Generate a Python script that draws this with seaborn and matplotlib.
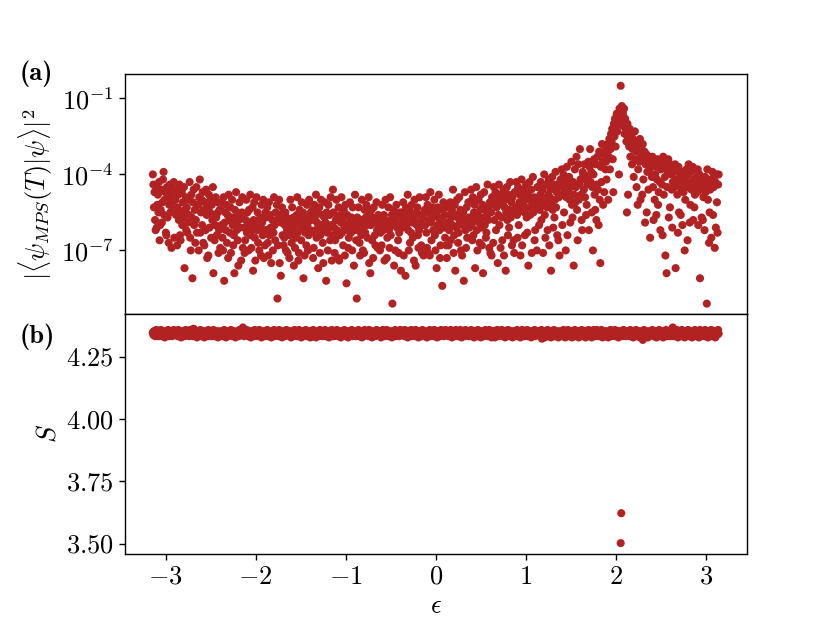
import numpy as np
import matplotlib
matplotlib.use("Agg")
import matplotlib.pyplot as plt
import seaborn as sns

# detuning grid: eps runs over [-pi, pi], one point per stored value
eps_min, eps_max = -np.pi, np.pi

# log10 of |<psi_MPS(T)|psi>|^2, in tenths (-52 -> 10^-5.2), 40 points per row
overlap_log10x10 = [
    -40, -44, -53, -47, -58, -62, -45, -61, -52, -48, -55, -43, -66, -60, -54, -46, -59, -51, -42, -39, -56, -50, -47, -63, -64, -45, -57, -49, -67, -52, -44, -55, -48, -69, -51, -46, -54, -43, -65, -50,
    -50, -56, -46, -68, -53, -48, -58, -44, -64, -66, -55, -47, -60, -51, -57, -45, -77, -54, -49, -62, -53, -63, -59, -50, -56, -43, -65, -70, -48, -57, -81, -51, -46, -60, -54, -67, -58, -45, -63, -52,
    -52, -70, -49, -42, -63, -55, -50, -60, -47, -67, -54, -68, -51, -62, -46, -56, -73, -53, -72, -48, -61, -55, -50, -65, -52, -58, -45, -79, -56, -66, -60, -49, -57, -64, -51, -55, -71, -62, -54, -69,
    -54, -60, -51, -65, -70, -49, -82, -59, -55, -62, -52, -67, -56, -73, -48, -58, -63, -53, -71, -57, -50, -60, -68, -64, -79, -54, -59, -47, -62, -56, -66, -76, -58, -51, -61, -57, -74, -55, -49, -69,
    -56, -61, -71, -66, -58, -50, -63, -55, -60, -70, -54, -59, -48, -64, -69, -62, -53, -78, -58, -51, -65, -74, -60, -49, -62, -55, -67, -58, -70, -61, -57, -72, -52, -59, -64, -50, -73, -62, -68, -55,
    -57, -62, -53, -67, -72, -51, -64, -56, -61, -75, -62, -58, -70, -63, -49, -60, -66, -55, -59, -52, -89, -68, -57, -50, -75, -56, -80, -59, -53, -64, -58, -68, -65, -60, -55, -70, -57, -62, -71, -59,
    -60, -73, -64, -50, -58, -67, -53, -61, -57, -76, -62, -69, -59, -65, -56, -49, -63, -74, -71, -54, -60, -57, -66, -51, -61, -55, -81, -59, -72, -63, -57, -68, -52, -60, -70, -64, -50, -58, -62, -55,
    -58, -63, -54, -73, -69, -52, -57, -62, -48, -65, -59, -55, -77, -61, -53, -71, -64, -50, -60, -56, -67, -75, -62, -57, -51, -59, -82, -55, -63, -70, -52, -61, -56, -66, -49, -60, -74, -64, -46, -55,
    -61, -71, -66, -58, -50, -62, -57, -73, -53, -74, -64, -56, -59, -49, -63, -58, -68, -54, -61, -72, -52, -60, -83, -56, -62, -69, -65, -59, -51, -58, -63, -57, -70, -53, -60, -76, -62, -48, -58, -66,
    -89, -57, -62, -53, -60, -67, -72, -58, -64, -50, -61, -70, -59, -71, -54, -63, -57, -52, -60, -65, -58, -49, -75, -56, -79, -60, -54, -66, -57, -73, -53, -59, -64, -68, -58, -51, -62, -69, -56, -60,
    -60, -70, -63, -57, -68, -52, -59, -62, -56, -74, -58, -50, -61, -73, -65, -59, -53, -62, -69, -49, -64, -58, -56, -91, -60, -54, -76, -57, -70, -59, -52, -61, -56, -66, -71, -63, -55, -60, -78, -57,
    -55, -61, -51, -72, -57, -59, -80, -53, -60, -56, -48, -62, -70, -54, -67, -57, -63, -52, -59, -65, -56, -74, -50, -58, -76, -55, -60, -53, -64, -69, -62, -49, -59, -56, -68, -71, -60, -57, -72, -55,
    -54, -60, -49, -63, -69, -52, -71, -58, -55, -72, -47, -59, -66, -53, -57, -62, -56, -50, -64, -70, -55, -77, -60, -53, -57, -48, -62, -73, -68, -59, -54, -84, -58, -51, -61, -56, -65, -53, -68, -73,
    -53, -59, -68, -62, -56, -51, -66, -57, -54, -60, -46, -71, -64, -52, -78, -56, -61, -50, -57, -67, -63, -49, -59, -54, -70, -57, -72, -60, -55, -82, -58, -47, -62, -69, -53, -65, -59, -51, -57, -61,
    -51, -57, -46, -60, -66, -49, -64, -55, -52, -77, -58, -45, -62, -70, -56, -50, -59, -67, -54, -48, -61, -68, -52, -79, -57, -47, -60, -54, -65, -63, -56, -44, -58, -53, -69, -51, -71, -55, -72, -49,
    -49, -67, -45, -58, -52, -47, -62, -53, -50, -75, -56, -44, -60, -51, -69, -48, -57, -66, -52, -46, -72, -53, -50, -78, -55, -45, -58, -64, -48, -61, -54, -43, -57, -51, -68, -49, -55, -66, -71, -47,
    -47, -53, -43, -56, -65, -45, -60, -51, -48, -72, -54, -42, -68, -49, -52, -46, -55, -64, -50, -44, -57, -63, -48, -76, -53, -43, -56, -50, -46, -71, -52, -41, -55, -49, -66, -62, -53, -51, -70, -45,
    -45, -51, -60, -54, -48, -43, -58, -49, -46, -71, -52, -40, -56, -65, -50, -44, -53, -62, -48, -42, -68, -49, -46, -78, -51, -41, -54, -61, -44, -57, -50, -39, -53, -47, -64, -45, -66, -49, -72, -43,
    -42, -48, -38, -60, -45, -40, -55, -46, -43, -70, -49, -37, -64, -44, -47, -41, -50, -59, -45, -35, -52, -57, -43, -76, -48, -38, -51, -45, -33, -54, -66, -36, -50, -44, -30, -42, -48, -58, -62, -39,
    -40, -46, -36, -49, -42, -56, -52, -44, -41, -35, -62, -37, -30, -43, -39, -55, -45, -70, -40, -34, -48, -54, -36, -58, -44, -33, -46, -60, -31, -50, -75, -37, -43, -28, -35, -52, -32, -47, -29, -38,
    -35, -42, -31, -28, -50, -33, -26, -38, -30, -24, -27, -22, -34, -47, -20, -25, -18, -29, -21, -16, -23, -17, -19, -40, -14, -18, -5, -15, -13, -19, -16, -21, -14, -24, -18, -22, -27, -55, -20, -48,
    -25, -29, -22, -33, -27, -24, -36, -30, -26, -41, -28, -23, -34, -31, -45, -27, -52, -38, -29, -35, -26, -50, -33, -30, -48, -28, -42, -34, -31, -59, -36, -32, -55, -39, -35, -46, -33, -38, -65, -34,
    -36, -41, -33, -45, -58, -35, -50, -40, -37, -56, -42, -34, -52, -47, -36, -43, -62, -38, -35, -44, -64, -33, -48, -37, -41, -72, -36, -79, -45, -39, -34, -57, -38, -53, -36, -40, -46, -61, -43, -39,
    -39, -45, -36, -77, -42, -38, -48, -63, -37, -55, -44, -40, -56, -46, -43, -60, -39, -47, -41, -70, -50, -42, -38, -45, -66, -40, -36, -44, -59, -52, -39, -46, -43, -37, -58, -42, -53, -48, -38, -45,
    -41, -47, -38, -60, -44, -40, -81, -46, -42, -57, -45, -58, -49, -43, -62, -41, -47, -44, -91, -38, -50, -43, -67, -55, -46, -42, -65, -44, -39, -56, -45, -41, -69, -43, -61, -40, -51, -63, -44, -40,
]

# entanglement entropy S, stored as (S - 4.342) in steps of 0.005
entropy_base, entropy_step = 4.342, 0.005
entropy_offset = [
    1, -1, 2, 0, -2, 1, 3, -1, 0, 2, -2, 1, 0, -1, 3, 1, -2, 0, 2, -1, 1, -3, 0, 2, 1, -1, 0, 3, -2, 1, 0, -1, 2, 1, -2, 0, 1, 3, -1, 0,
    -1, 2, 0, 1, -2, 3, 0, -1, 1, 2, -3, 0, 1, -1, 2, 0, -2, 1, 3, -1, 0, 2, -1, 1, -2, 0, 3, 1, -1, 0, 2, -2, 4, 0, 1, -1, 2, 0, -3, 1,
    2, 0, -1, 1, 3, -2, 0, 1, -1, 2, 0, -3, 1, 2, -1, 0, 1, -2, 3, 0, -1, 1, 2, -2, 0, 1, -1, 3, 0, -2, 1, 0, 2, -1, 1, -3, 0, 2, 1, -1,
    0, 1, -2, 2, -1, 0, 3, 1, -1, -3, 2, 0, 1, -2, 0, 2, -1, 1, 3, 0, -2, 1, -1, 0, 2, 1, -3, 0, 1, -1, 2, 0, -2, 3, 1, -1, 0, 2, -1, 5,
    1, -2, 0, 2, 1, -1, 3, 0, -2, 1, 2, -1, 0, -3, 1, 2, 0, -1, 1, -2, 3, 0, 1, -1, 2, -2, 0, 1, 3, -1, 0, 2, -3, 1, 0, -1, 2, 1, -2, 0,
    -1, 1, 3, 0, -2, 2, 1, -1, 0, -3, 2, 1, 0, -1, 3, -2, 0, 1, 2, -1, 1, 0, -2, 3, 0, -1, 2, 1, -3, 0, 1, -1, 2, 0, -2, 1, 3, 0, -1, 2,
    0, 2, -1, 1, -3, 0, 2, 1, -2, 0, 3, -1, 1, 2, 0, -2, 1, -1, 3, 0, 2, -1, -3, 1, 0, 2, -2, 1, 0, -1, 3, 1, -2, 0, 2, -1, 1, 0, -3, 2,
    1, 0, -2, 3, -1, 1, 0, 2, -3, 1, -1, 0, 2, 1, -2, 3, 0, -1, 1, 2, -2, 0, 1, -1, 3, 0, -2, 2, 1, -1, 0, -3, 2, 1, 0, -1, 3, -2, 1, 0,
    -2, 1, 2, 0, -1, 3, 1, -2, 0, 1, -1, 2, -3, 0, 1, 2, -1, 0, 3, -2, 1, 0, -1, 2, 1, -3, 0, 2, -1, 1, 0, 3, -2, 1, -1, 0, 2, 1, -2, 0,
    1, -1, 0, 3, -2, 1, 2, 0, -1, -3, 1, 2, 0, -2, 3, -1, 1, 0, 2, -1, 0, -2, 3, 1, -1, 0, 2, -3, 1, 0, 2, -1, 1, -2, 0, 3, -1, 2, 0, 1,
    0, 2, -1, -3, 1, 0, 3, -1, 2, 0, -2, 1, -1, 3, 0, 2, -2, 1, 0, -1, 2, 1, -3, 0, 1, 2, -1, 0, 3, -2, 1, 0, -1, 2, 1, -2, 0, 3, -1, 1,
    -1, 0, 2, 1, -2, 3, 0, -1, 1, 2, -3, 1, 0, 2, -1, 0, 3, -2, 1, -1, 0, 2, 1, -2, 3, 0, -1, 1, 2, -3, 0, 1, -1, 2, 0, -2, 3, 1, -1, 0,
    2, -1, 1, 0, -3, 2, 1, -1, 0, 3, -2, 1, 0, -1, 2, 1, -2, 3, 0, -1, 1, 2, -3, 0, 1, -1, 2, 0, -2, 3, 1, 0, -1, 2, -2, 1, 0, 3, -1, 1,
    0, 1, -2, 2, 0, -1, 3, 1, -3, 0, 2, -1, 1, 0, -2, 3, 1, -1, 0, 2, -2, 1, 0, 3, -1, -3, 1, 2, 0, -1, 1, -2, 3, 0, 1, -1, 2, 0, -2, 1,
    1, -2, 3, 0, -1, 2, 1, -3, 0, 1, 2, -1, 0, -2, 3, 1, 0, -1, 2, -3, 1, 0, 2, -1, 1, -2, 0, 3, 1, -1, 0, 2, -2, 1, 3, 0, -1, 1, -3, 2,
    -1, 2, 0, 1, -3, 2, 0, -1, 3, 1, -2, 0, 1, 2, -1, 0, 3, -2, 1, 0, -1, 2, -3, 1, 0, 2, -1, 3, 0, -2, 1, -1, 2, 0, 1, -3, 0, 2, 1, -1,
    2, 0, -1, 3, -2, 1, 0, 2, -1, -3, 1, 0, 3, -1, 2, 0, -2, 1, -1, 2, 0, 3, -2, 1, 0, -1, 2, 1, -3, 0, 1, 2, -1, 0, 3, -2, 1, -1, 0, 2,
    0, -1, 2, 1, -2, 0, 3, -4, 1, 2, -1, 0, -3, 2, 1, 0, -1, 3, -2, 1, 0, 2, -1, -3, 1, 0, 2, -1, 3, 0, -2, 1, 0, 2, -1, 1, -3, 0, 2, 1,
    1, 0, -2, 2, -1, 3, 0, 1, -3, 2, 0, -1, 1, 3, -2, 0, 2, -1, 1, 0, -3, 2, 1, -1, 0, 3, -2, 1, 0, -1, 2, 1, -3, 0, 2, -1, 1, 3, 0, -2,
    -1, 2, 1, 0, -3, 1, 2, -1, 0, 3, -2, 1, 0, 2, -1, -3, 1, 0, 3, -1, 2, 0, -2, 1, 3, -1, 0, 2, -2, 1, 0, -1, 3, 1, -3, 0, 2, -1, 1, 0,
    2, -1, 0, 1, -3, 2, 0, -1, 3, 1, -2, 0, 2, -1, 1, 0, 3, -2, 1, 0, -1, 2, -3, 0, 1, 2, -168, -144, 0, -2, 1, 3, -1, 0, 2, -2, 1, 0, -1, 2,
    0, 1, -2, 3, -1, 0, 2, 1, -3, 0, 2, -1, 1, 3, -2, 0, 1, -1, 2, 0, -3, 1, 2, -1, 0, -5, 1, 3, -2, 0, 2, -1, 1, 0, -3, 2, 1, -1, 0, 2,
    1, -1, 3, 0, -2, 1, 2, -1, 0, -3, 2, 1, 0, -1, 3, -2, 1, 0, 2, -1, 0, -3, 1, 2, 0, -1, 3, 1, -2, 0, 2, -1, 1, 0, -2, 3, 1, -1, 5, 0,
    -2, 1, 0, 2, -1, 3, 0, -3, 1, 2, -1, 0, 1, -2, 3, 0, 2, -1, 1, -3, 0, 2, 1, -1, 0, 3, -2, 1, 0, 2, -1, 1, -3, 0, 2, 1, -1, 3, 0, -2,
    1, 0, 2, -1, -3, 1, 3, 0, -2, 1, 0, 2, -1, 1, -2, 3, 0, -1, 2, 1, -3, 0, 1, 2, -1, 0, 3, -2, 1, 0, -1, 2, 1, -3, 0, 2, -1, 1, 3, 0,
]

x_ticks = [-3, -2, -1, 0, 1, 2, 3]
x_ticklabels = [r"$-3$", r"$-2$", r"$-1$", r"$0$", r"$1$", r"$2$", r"$3$"]
overlap_ticks = [1e-7, 1e-4, 1e-1]
overlap_ticklabels = [r"$10^{-7}$", r"$10^{-4}$", r"$10^{-1}$"]
entropy_ticks = [3.50, 3.75, 4.00, 4.25]
entropy_ticklabels = [r"$3.50$", r"$3.75$", r"$4.00$", r"$4.25$"]

COLOR = "firebrick"
FS = 19
MARKER_S = 34

sns.set_theme(style="ticks")
plt.rcParams.update({
    "font.family": ["cmr10", "DejaVu Serif"],
    "mathtext.fontset": "cm",
    "axes.formatter.use_mathtext": True,
    "axes.edgecolor": "black",
    "axes.linewidth": 1.0,
    "xtick.color": "black",
    "ytick.color": "black",
    "xtick.major.size": 4.5,
    "ytick.major.size": 4.5,
    "xtick.major.width": 1.0,
    "ytick.major.width": 1.0,
    "text.color": "black",
    "axes.labelcolor": "black",
})

overlap = 10.0 ** (np.array(overlap_log10x10) / 10.0)
entropy = entropy_base + entropy_step * np.array(entropy_offset)
eps_overlap = np.linspace(eps_min, eps_max, len(overlap))
eps_entropy = np.linspace(eps_min, eps_max, len(entropy))

fig, (ax1, ax2) = plt.subplots(2, 1, sharex=True, figsize=(8.3, 6.23), dpi=100)
fig.subplots_adjust(left=0.15, right=0.9, top=0.881, bottom=0.111, hspace=0)

# (a) overlap with the MPS state, log scale
sns.scatterplot(x=eps_overlap, y=overlap, ax=ax1, color=COLOR, s=MARKER_S,
                linewidth=0, edgecolor="none")
ax1.set_yscale("log")
ax1.set_ylim(10 ** -9.51, 10 ** -0.04)
ax1.set_yticks(overlap_ticks, labels=overlap_ticklabels, fontsize=FS)
ax1.yaxis.set_minor_locator(matplotlib.ticker.NullLocator())
ax1.set_ylabel(r"$|\langle\psi_{MPS}(T)|\psi\rangle|^2$", fontsize=FS)
ax1.tick_params(axis="x", bottom=False)

# (b) entanglement entropy
sns.scatterplot(x=eps_entropy, y=entropy, ax=ax2, color=COLOR, s=MARKER_S,
                linewidth=0, edgecolor="none")
ax2.set_ylim(3.459, 4.421)
ax2.set_yticks(entropy_ticks, labels=entropy_ticklabels, fontsize=FS)
ax2.set_xticks(x_ticks, labels=x_ticklabels, fontsize=FS)
ax2.set_xlim(-3.456, 3.456)
ax2.set_ylabel(r"$S$", fontsize=FS)
ax2.set_xlabel(r"$\epsilon$", fontsize=FS)

for ax in (ax1, ax2):
    for side in ("top", "right", "left", "bottom"):
        ax.spines[side].set_visible(True)

fig.text(0.024, 0.881, "(a)", family="cmb10", fontsize=19, va="center", ha="left")
fig.text(0.024, 0.460, "(b)", family="cmb10", fontsize=19, va="center", ha="left")

fig.savefig("out.png", dpi=100)
